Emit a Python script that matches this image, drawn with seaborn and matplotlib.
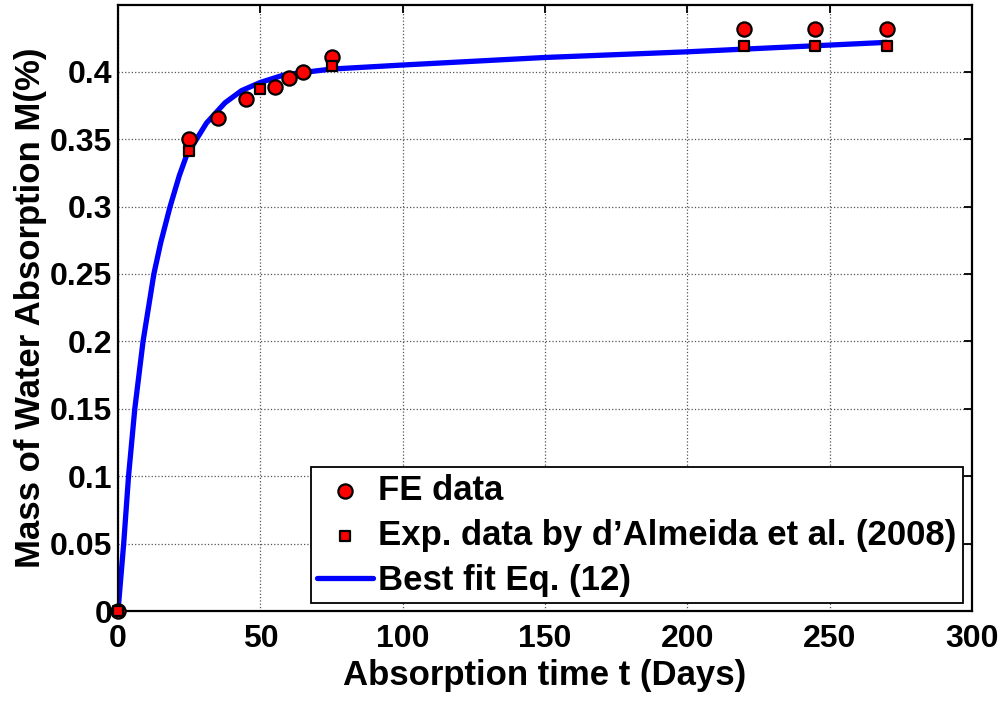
import numpy as np
import pandas as pd
import matplotlib
matplotlib.use("Agg")
import matplotlib.pyplot as plt
import seaborn as sns

# Finite-element results
fe_t = [0, 25, 35, 45, 55, 60, 65, 75, 220, 245, 270]
fe_m = [0.0, 0.350, 0.366, 0.380, 0.389, 0.395, 0.400, 0.411, 0.432, 0.432, 0.432]

# Experimental measurements (d'Almeida et al., 2008)
exp_t = [0, 25, 50, 75, 220, 245, 270]
exp_m = [0.0, 0.341, 0.387, 0.404, 0.419, 0.419, 0.419]

# Best-fit curve, Eq. (12)
fit_t = [0, 1.0, 2.0, 3.7, 5.9, 8.8, 12.6, 15.0, 18.3, 21.5, 24.1, 26.7,
         31.1, 37.6, 43.4, 49.9, 58.1, 65.1, 75, 100, 150, 200, 220, 270]
fit_m = [0.0, 0.025, 0.050, 0.100, 0.150, 0.200, 0.250, 0.2732, 0.300,
         0.3227, 0.338, 0.347, 0.362, 0.377, 0.386, 0.392, 0.3975, 0.3995,
         0.402, 0.405, 0.4106, 0.4148, 0.4168, 0.4218]

x_ticks = [0, 50, 100, 150, 200, 250, 300]
y_ticks = [0, 0.05, 0.1, 0.15, 0.2, 0.25, 0.3, 0.35, 0.4]
y_tick_labels = ["0", "0.05", "0.1", "0.15", "0.2", "0.25", "0.3", "0.35", "0.4"]

sns.set_style("white")
plt.rcParams["font.family"] = ["Liberation Sans", "DejaVu Sans"]
plt.rcParams["font.weight"] = "bold"
plt.rcParams["text.color"] = "black"
plt.rcParams["axes.labelcolor"] = "black"

fig = plt.figure(figsize=(10.06, 7.08), dpi=100)
ax = fig.add_axes([0.1173, 0.137, 0.8489, 0.8559])

fit_df = pd.DataFrame({"t": fit_t, "m": fit_m})
fe_df = pd.DataFrame({"t": fe_t, "m": fe_m})
exp_df = pd.DataFrame({"t": exp_t, "m": exp_m})

sns.lineplot(data=fit_df, x="t", y="m", ax=ax, color="#0000ff", lw=3.8,
             label="Best fit Eq. (12)", zorder=2, sort=False)
sns.scatterplot(data=fe_df, x="t", y="m", ax=ax, marker="o", s=105,
                color="#ff0000", edgecolor="black", linewidth=1.6,
                label="FE data", zorder=3, clip_on=False)
sns.scatterplot(data=exp_df, x="t", y="m", ax=ax, marker="s", s=55,
                color="#ff0000", edgecolor="black", linewidth=1.6,
                label="Exp. data by d\u2019Almeida et al. (2008)", zorder=4,
                clip_on=False)

ax.set_xlim(0, 300)
ax.set_ylim(0, 0.4495)
ax.set_xticks(x_ticks)
ax.set_xticklabels([str(v) for v in x_ticks])
ax.set_yticks(y_ticks)
ax.set_yticklabels(y_tick_labels)

ax.grid(True, color="#555555", linestyle=":", linewidth=0.9)
ax.tick_params(direction="in", length=6, width=1.3, top=True, right=True,
               labelsize=23, colors="black")
ax.tick_params(axis="x", pad=9)
ax.tick_params(axis="y", pad=4)
for lab in ax.get_xticklabels() + ax.get_yticklabels():
    lab.set_fontweight("bold")
for sp in ax.spines.values():
    sp.set_visible(True)
    sp.set_color("black")
    sp.set_linewidth(1.6)

ax.set_xlabel("Absorption time t (Days)", fontsize=25, fontweight="bold", labelpad=4)
ax.set_ylabel("Mass of Water Absorption M(%)", fontsize=25, fontweight="bold", labelpad=2)

handles, labels = ax.get_legend_handles_labels()
order = [1, 2, 0]
leg = ax.legend([handles[i] for i in order], [labels[i] for i in order],
                loc="lower right", bbox_to_anchor=(0.957, 0.148),
                bbox_transform=fig.transFigure, fontsize=25,
                frameon=True, fancybox=False, edgecolor="black",
                framealpha=1, handlelength=1.6, handletextpad=0.15,
                borderpad=0.18, labelspacing=0.35, borderaxespad=0)
leg.get_frame().set_linewidth(1.3)
leg.set_zorder(10)
for t in leg.get_texts():
    t.set_fontweight("bold")

fig.savefig("out.png", dpi=100)
